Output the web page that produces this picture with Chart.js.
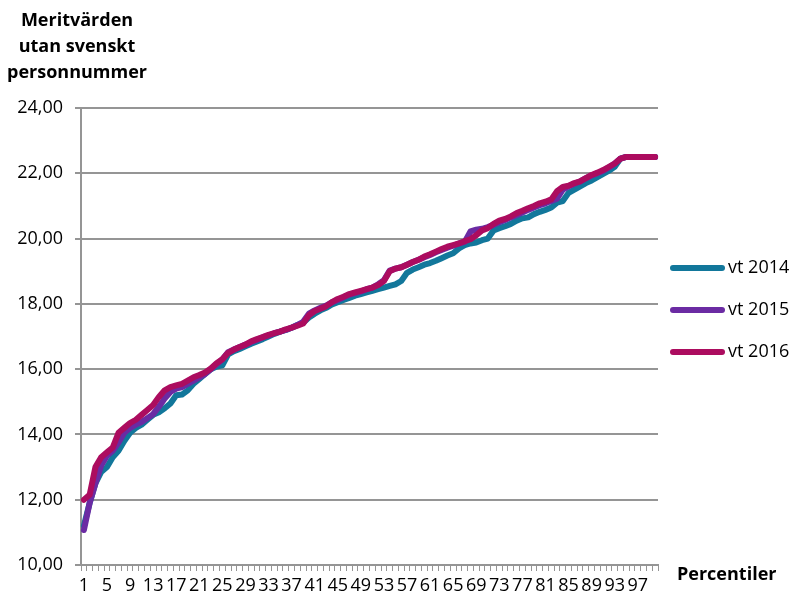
<!DOCTYPE html>
<html>
<head>
<meta charset="utf-8">
<script src="https://cdn.jsdelivr.net/npm/chart.js@4"></script>
<style>
  html, body { margin: 0; padding: 0; background: #fff; }
  #wrap { width: 793px; height: 604px; position: relative; }
</style>
</head>
<body>
<div id="wrap"><canvas id="myChart" width="793" height="604"></canvas></div>
<script>
// percentiler 1..100
const percentiler = [];
for (let i = 1; i <= 100; i++) percentiler.push(String(i));

const vt2014 = [
  11.2, 11.9, 12.5, 12.85, 13.0, 13.3, 13.5, 13.8, 14.05, 14.2,
  14.3, 14.45, 14.6, 14.68, 14.8, 14.95, 15.2, 15.22, 15.35, 15.55,
  15.7, 15.85, 16.0, 16.08, 16.12, 16.45, 16.55, 16.62, 16.7, 16.78,
  16.85, 16.92, 17.0, 17.08, 17.15, 17.2, 17.27, 17.35, 17.42, 17.58,
  17.7, 17.8, 17.88, 17.98, 18.05, 18.12, 18.18, 18.25, 18.3, 18.35,
  18.4, 18.45, 18.5, 18.55, 18.6, 18.7, 18.95, 19.05, 19.12, 19.2,
  19.25, 19.32, 19.4, 19.48, 19.55, 19.7, 19.8, 19.85, 19.88, 19.95,
  20.0, 20.25, 20.32, 20.38, 20.45, 20.55, 20.62, 20.65, 20.75, 20.82,
  20.88, 20.95, 21.1, 21.15, 21.4, 21.5, 21.6, 21.7, 21.78, 21.88,
  21.98, 22.08, 22.2, 22.45, 22.5, 22.5, 22.5, 22.5, 22.5, 22.5
];

const vt2015 = [
  11.07, 11.9, 12.5, 13.05, 13.35, 13.5, 13.75, 14.05, 14.2, 14.3,
  14.38, 14.5, 14.62, 14.85, 15.1, 15.3, 15.4, 15.45, 15.55, 15.65,
  15.75, 15.85, 16.0, 16.15, 16.3, 16.52, 16.6, 16.68, 16.75, 16.83,
  16.9, 16.98, 17.03, 17.1, 17.15, 17.2, 17.27, 17.35, 17.45, 17.7,
  17.8, 17.88, 17.95, 18.05, 18.12, 18.2, 18.28, 18.33, 18.38, 18.45,
  18.5, 18.6, 18.72, 19.02, 19.08, 19.12, 19.2, 19.28, 19.35, 19.43,
  19.5, 19.58, 19.65, 19.72, 19.78, 19.85, 19.9, 20.22, 20.27, 20.3,
  20.35, 20.42, 20.5, 20.57, 20.65, 20.72, 20.8, 20.88, 20.95, 21.02,
  21.08, 21.15, 21.22, 21.5, 21.6, 21.68, 21.75, 21.85, 21.93, 22.0,
  22.08, 22.18, 22.3, 22.45, 22.5, 22.5, 22.5, 22.5, 22.5, 22.5
];

const vt2016 = [
  12.0, 12.15, 13.0, 13.3, 13.45, 13.6, 14.05, 14.2, 14.35, 14.45,
  14.6, 14.75, 14.9, 15.15, 15.35, 15.45, 15.5, 15.55, 15.65, 15.75,
  15.82, 15.9, 16.02, 16.18, 16.3, 16.5, 16.6, 16.68, 16.75, 16.85,
  16.92, 16.98, 17.05, 17.1, 17.15, 17.22, 17.27, 17.33, 17.4, 17.65,
  17.78, 17.85, 17.93, 18.05, 18.15, 18.22, 18.3, 18.35, 18.4, 18.45,
  18.5, 18.58, 18.7, 19.0, 19.08, 19.12, 19.2, 19.28, 19.35, 19.45,
  19.52, 19.6, 19.68, 19.75, 19.8, 19.85, 19.92, 19.98, 20.1, 20.25,
  20.32, 20.45, 20.55, 20.6, 20.68, 20.78, 20.85, 20.93, 21.0, 21.08,
  21.13, 21.2, 21.45, 21.58, 21.62, 21.7, 21.75, 21.85, 21.95, 22.02,
  22.1, 22.2, 22.3, 22.45, 22.5, 22.5, 22.5, 22.5, 22.5, 22.5
];

const serieNamn = ["vt 2014", "vt 2015", "vt 2016"];
const serieFarg = ["#12779b", "#6b2ba3", "#ac0c5f"];
const yTitel = ["Meritvärden", "utan svenskt", "personnummer"];
const xTitel = "Percentiler";

const FONT = "'Open Sans', 'DejaVu Sans', sans-serif";
const GRID = "#959595";

// rubriker och legend ritas direkt på canvas
const textPlugin = {
  id: "texter",
  afterDraw(chart) {
    const c = chart.ctx;
    c.save();
    c.fillStyle = "#000";
    c.textBaseline = "middle";
    c.font = "bold 18px " + FONT;
    c.textAlign = "center";
    yTitel.forEach((t, i) => c.fillText(t, 77, 21 + i * 26));
    c.textAlign = "left";
    c.fillText(xTitel, 677, 575);

    // legend
    c.font = "18px " + FONT;
    serieNamn.forEach((namn, i) => {
      const y = 268 + i * 42;
      c.strokeStyle = serieFarg[i];
      c.lineWidth = 6;
      c.lineCap = "round";
      c.beginPath();
      c.moveTo(673, y);
      c.lineTo(722, y);
      c.stroke();
      c.fillStyle = "#000";
      c.fillText(namn, 728, y);
    });
    c.restore();
  }
};

const ctx = document.getElementById("myChart").getContext("2d");

const myChart = new Chart(ctx, {
  type: "line",
  data: {
    labels: percentiler,
    datasets: [vt2014, vt2015, vt2016].map((d, i) => ({
      label: serieNamn[i],
      data: d,
      order: 2 - i, // vt 2016 överst
      borderColor: serieFarg[i],
      backgroundColor: serieFarg[i],
      borderWidth: 6,
      borderJoinStyle: "round",
      borderCapStyle: "round",
      pointRadius: 0,
      tension: 0,
      fill: false,
    })),
  },
  options: {
    responsive: false,
    animation: false,
    layout: { padding: { left: 0, top: 108, right: 135, bottom: 0 } },
    plugins: {
      legend: { display: false },
      tooltip: { enabled: false },
    },
    scales: {
      x: {
        offset: true,
        afterFit: (s) => { s.height = 39; },
        grid: {
          offset: true,
          drawOnChartArea: false,
          drawTicks: true,
          tickLength: 6,
          color: GRID,
          lineWidth: 1,
        },
        border: { display: true, color: GRID, width: 2 },
        ticks: {
          autoSkip: false,
          maxRotation: 0,
          minRotation: 0,
          padding: 4,
          color: "#000",
          font: { family: FONT, size: 18 },
          callback: (v, i) => (i % 4 === 0 ? percentiler[i] : ""),
        },
      },
      y: {
        min: 10,
        max: 24,
        afterFit: (s) => { s.width = 81; },
        grid: {
          color: GRID,
          lineWidth: 2,
          drawTicks: true,
          tickLength: 6,
        },
        border: { display: true, color: GRID, width: 2 },
        ticks: {
          stepSize: 2,
          padding: 12,
          color: "#000",
          font: { family: FONT, size: 18 },
          callback: (v) => v.toFixed(2).replace(".", ","),
        },
      },
    },
  },
  plugins: [textPlugin],
});
</script>
</body>
</html>
